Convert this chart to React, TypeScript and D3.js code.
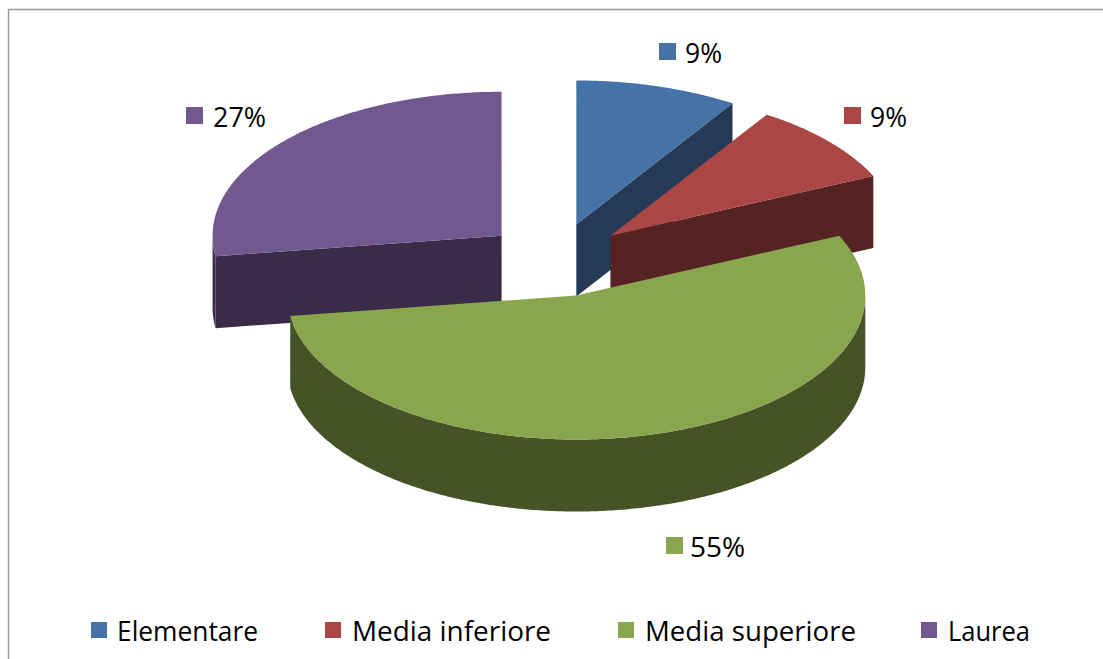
import React from "react";
import * as d3 from "d3";

const categories = ["Elementare", "Media inferiore", "Media superiore", "Laurea"];
const values = [1, 1, 6, 3];
const topColors = ["#4572A7", "#AA4643", "#89A54E", "#71588F"];
const sideColors = ["#243A56", "#552322", "#465327", "#3A2C48"];

const W = 1103;
const H = 659;
const CX = 556;
const CY = 260;
const RX = 289;
const RY = 144;
const DEPTH = 72;
const EX = 72;
const EY = 37;

const labelPos = [
  { sx: 659, sy: 43, tx: 685, ty: 63, w: 37 },
  { sx: 844, sy: 107, tx: 870, ty: 127, w: 37 },
  { sx: 666, sy: 537, tx: 690, ty: 557, w: 55 },
  { sx: 186, sy: 107, tx: 213, ty: 127, w: 53 },
];
const legendPos = [
  { sx: 91, tx: 117, w: 141 },
  { sx: 325, tx: 352, w: 199 },
  { sx: 618, tx: 645, w: 211 },
  { sx: 921, tx: 948, w: 82 },
];

export default function App() {
  const total = d3.sum(values);
  const pie = d3.pie<number>().sort(null).value((d) => d).startAngle(0).endAngle(2 * Math.PI);
  const arcs = pie(values);
  const fmt = d3.format(".0%");
  const line = d3.line<[number, number]>();

  const proj = (ox: number, oy: number, a: number, r: number, z: number): [number, number] => [
    CX + ox + RX * r * Math.sin(a),
    CY + oy - RY * r * Math.cos(a) + z,
  ];

  const sampleArc = (ox: number, oy: number, a0: number, a1: number, z: number) => {
    const n = Math.max(2, Math.ceil(Math.abs(a1 - a0) / 0.01));
    return d3.range(n + 1).map((i) => proj(ox, oy, a0 + ((a1 - a0) * i) / n, 1, z));
  };

  const slices = arcs.map((d, i) => {
    const mid = (d.startAngle + d.endAngle) / 2;
    const ox = EX * Math.sin(mid);
    const oy = -EY * Math.cos(mid);
    const paths: { d: string; fill: string }[] = [];
    const v0 = Math.max(d.startAngle, Math.PI / 2);
    const v1 = Math.min(d.endAngle, (3 * Math.PI) / 2);
    if (v1 > v0) {
      const topArc = sampleArc(ox, oy, v0, v1, 0);
      const botArc = sampleArc(ox, oy, v1, v0, DEPTH);
      paths.push({ d: line([...topArc, ...botArc])! + "Z", fill: sideColors[i] });
    }
    const wall = (a: number) => {
      const p0 = proj(ox, oy, a, 0, 0);
      const p1 = proj(ox, oy, a, 1, 0);
      const p2 = proj(ox, oy, a, 1, DEPTH);
      const p3 = proj(ox, oy, a, 0, DEPTH);
      return line([p0, p1, p2, p3])! + "Z";
    };
    if (Math.cos(d.startAngle - Math.PI / 2) < -1e-6) paths.push({ d: wall(d.startAngle), fill: sideColors[i] });
    if (Math.cos(d.endAngle + Math.PI / 2) < -1e-6) paths.push({ d: wall(d.endAngle), fill: sideColors[i] });
    const apex = proj(ox, oy, 0, 0, 0);
    paths.push({ d: line([apex, ...sampleArc(ox, oy, d.startAngle, d.endAngle, 0)])! + "Z", fill: topColors[i] });
    return { i, back: -Math.cos(mid), paths };
  });
  const order = [...slices].sort((a, b) => a.back - b.back);

  const font = "'Open Sans', 'DejaVu Sans', sans-serif";

  return (
    <svg width={W} height={H} style={{ position: "absolute", left: 0, top: 0 }} xmlns="http://www.w3.org/2000/svg">
      <rect x={0} y={0} width={W} height={H} fill="#ffffff" />
      <rect x={8.5} y={9.5} width={1200} height={800} fill="none" stroke="#9a9a9a" strokeWidth={1.5} />
      {order.map((s) => (
        <g key={s.i}>
          {s.paths.map((p, k) => (
            <path key={k} d={p.d} fill={p.fill} />
          ))}
        </g>
      ))}
      {arcs.map((d, i) => (
        <g key={"l" + i}>
          <rect x={labelPos[i].sx} y={labelPos[i].sy} width={17} height={17} fill={topColors[i]} />
          <text
            x={labelPos[i].tx}
            y={labelPos[i].ty}
            fontFamily={font}
            fontSize={27}
            fill="#000"
            textLength={labelPos[i].w}
            lengthAdjust="spacingAndGlyphs"
          >
            {fmt(values[i] / total)}
          </text>
        </g>
      ))}
      {categories.map((c, i) => (
        <g key={"g" + i}>
          <rect x={legendPos[i].sx} y={622} width={16} height={16} fill={topColors[i]} />
          <text
            x={legendPos[i].tx}
            y={641}
            fontFamily={font}
            fontSize={28}
            fill="#000"
            textLength={legendPos[i].w}
            lengthAdjust="spacingAndGlyphs"
          >
            {c}
          </text>
        </g>
      ))}
    </svg>
  );
}
